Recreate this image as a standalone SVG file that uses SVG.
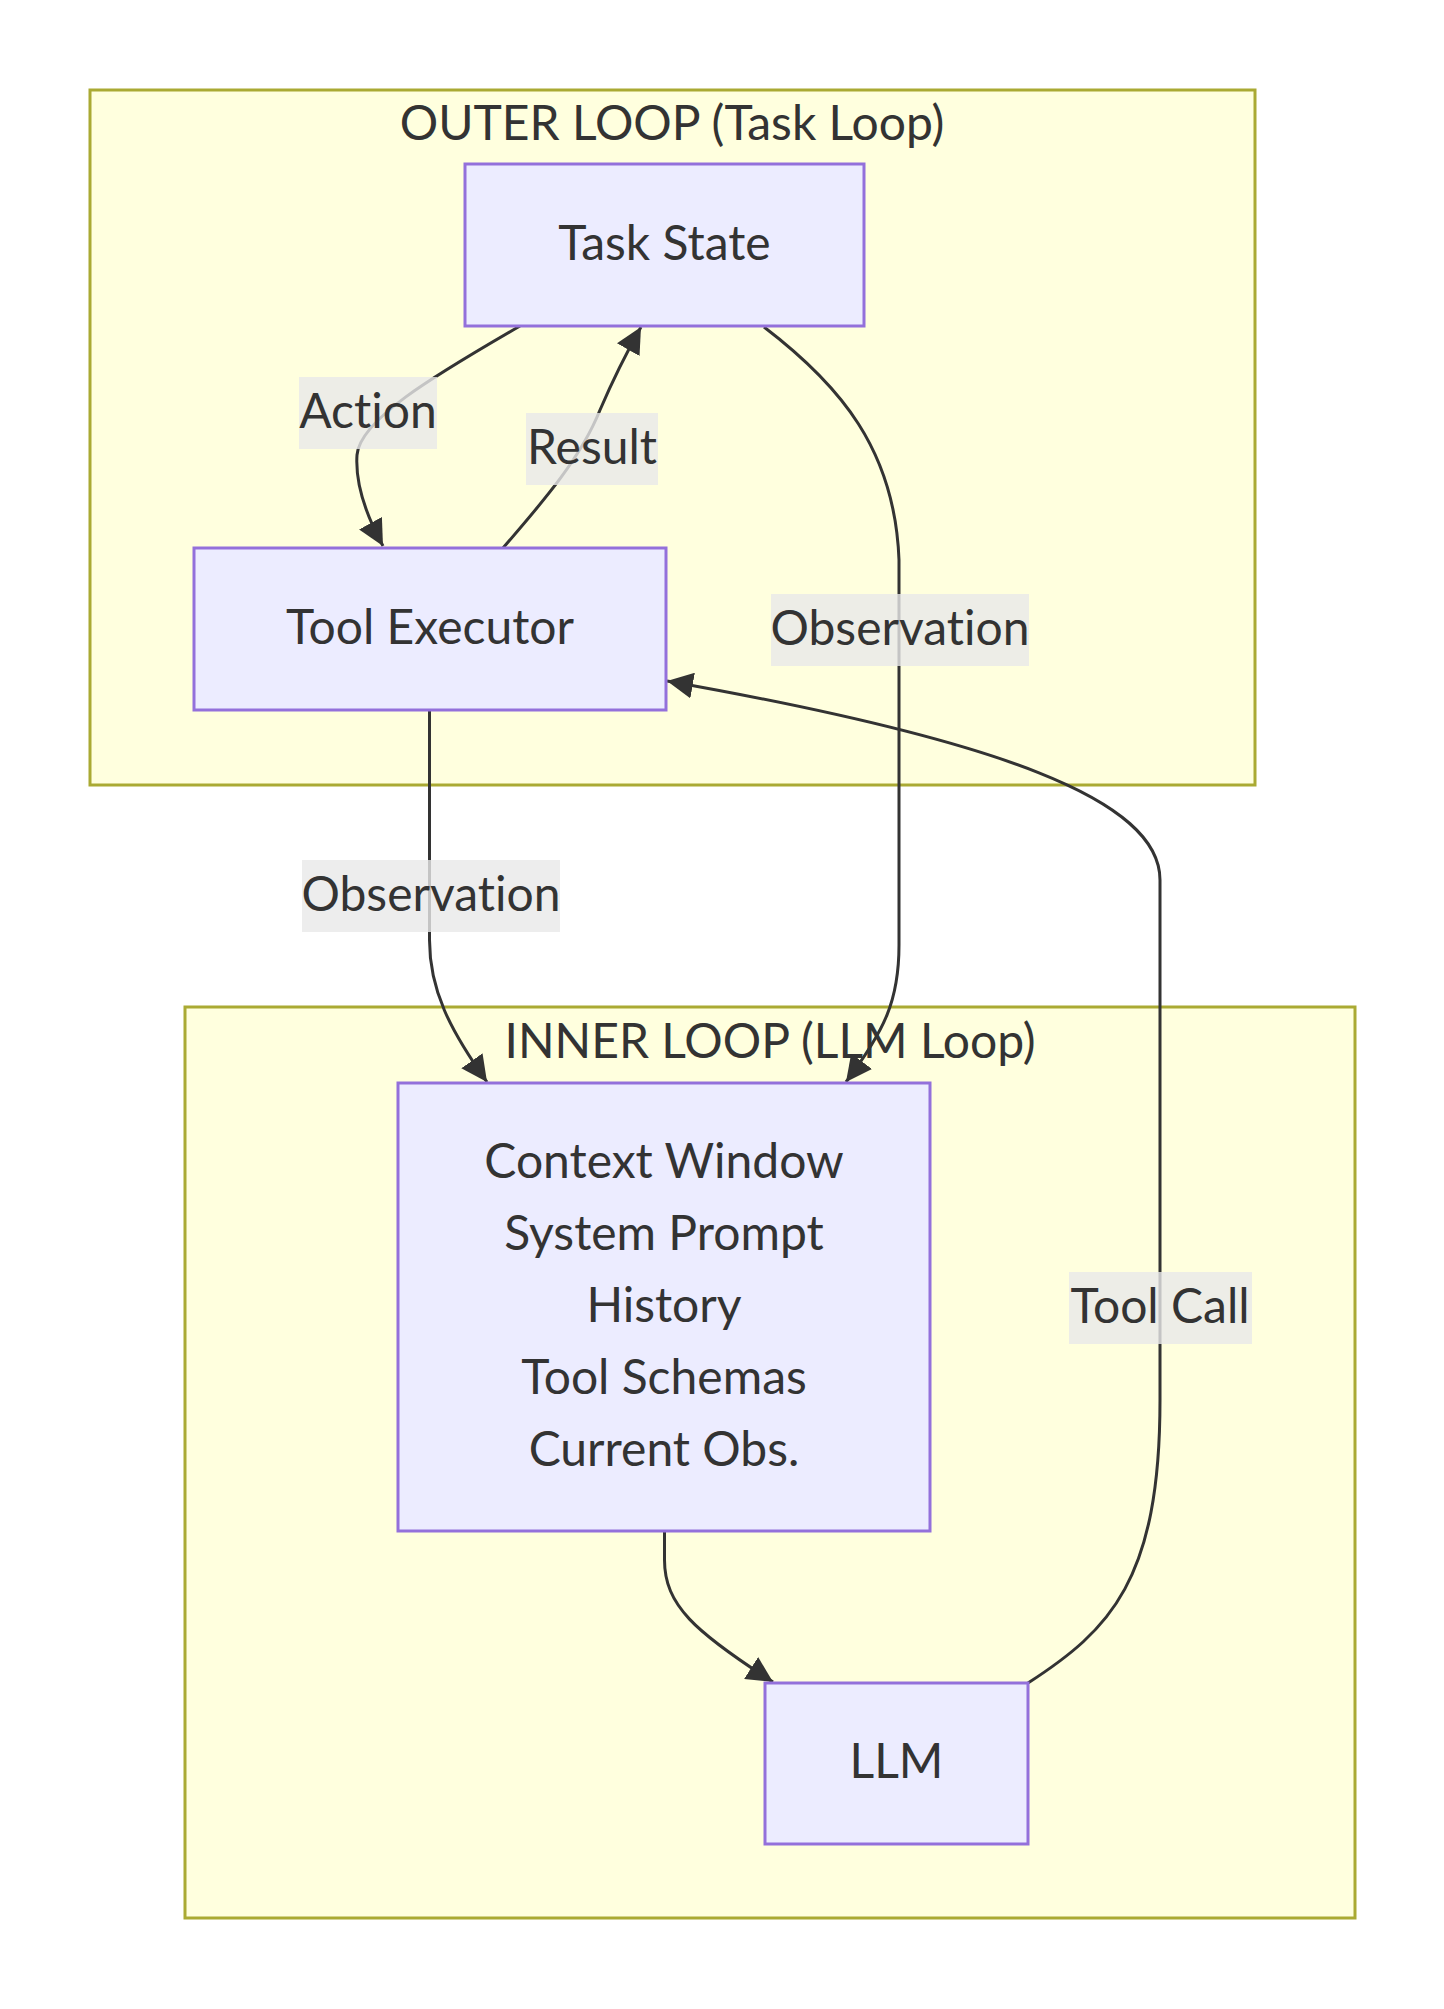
<svg xmlns="http://www.w3.org/2000/svg" width="1444" height="2009" viewBox="0 0 1444 2009">
<style>
.cluster{fill:#ffffde;stroke:#aaaa33;stroke-width:3}
.node rect{fill:#ececff;stroke:#9370db;stroke-width:3}
.txt{font-family:Lato,"Liberation Sans",sans-serif;font-size:48px;fill:#333333;text-anchor:middle;font-variant-ligatures:none;font-feature-settings:"liga" 0,"clig" 0}
.edge{fill:none;stroke:#333333;stroke-width:3}
.lbl{fill:#e8e8e8;fill-opacity:0.8}
</style>
<defs>
<marker id="arrow" viewBox="0 0 10 10" refX="10" refY="5" markerUnits="userSpaceOnUse" markerWidth="26" markerHeight="26" orient="auto">
<path d="M0,0 L10,5 L0,10 z" fill="#333333"/>
</marker>
</defs>
<rect width="1444" height="2009" fill="#ffffff"/>
<g id="cluster-outer">
<rect class="cluster" x="90" y="90" width="1165" height="695"/>
<text class="txt" x="672" y="140">OUTER LOOP (Task Loop)</text>
</g>
<g id="cluster-inner">
<rect class="cluster" x="185" y="1007" width="1170" height="911"/>
<text class="txt" x="770" y="1058">INNER LOOP (LLM Loop)</text>
</g>
<g id="connectors">
<path class="edge" d="M520,326 C430,378 360,420 357,455 C355,485 366,515 383,546" marker-end="url(#arrow)"/>
<path class="edge" d="M503,548 C540,505 580,460 600,410 C615,375 628,350 641,327" marker-end="url(#arrow)"/>
<path class="edge" d="M764,327 C840,385 895,450 899,560 L899,945 C899,1000 885,1030 846,1082" marker-end="url(#arrow)"/>
<path class="edge" d="M429.5,711 L429.5,940 C429.5,990 450,1030 487,1082" marker-end="url(#arrow)"/>
<path class="edge" d="M664.5,1532 L664.5,1560 C664.5,1605 695,1632 773,1682" marker-end="url(#arrow)"/>
<path class="edge" d="M1028,1683 C1110,1630 1160,1580 1160,1400 L1160,880 C1160,800 1000,740 667,681" marker-end="url(#arrow)"/>
</g>
<g id="edge-labels">
<rect class="lbl" x="299" y="377" width="138" height="72"/>
<text class="txt" x="368" y="428">Action</text>
<rect class="lbl" x="526" y="413" width="132" height="72"/>
<text class="txt" x="592" y="464">Result</text>
<rect class="lbl" x="771" y="594" width="258" height="72"/>
<text class="txt" x="900" y="645">Observation</text>
<rect class="lbl" x="302" y="860" width="258" height="72"/>
<text class="txt" x="431" y="911">Observation</text>
<rect class="lbl" x="1069" y="1272" width="183" height="72"/>
<text class="txt" x="1160" y="1323">Tool Call</text>
</g>
<g id="node-task-state" class="node">
<rect x="465" y="164" width="399" height="162"/>
<text class="txt" x="664.5" y="260">Task State</text>
</g>
<g id="node-tool-executor" class="node">
<rect x="194" y="548" width="472" height="162"/>
<text class="txt" x="430" y="644">Tool Executor</text>
</g>
<g id="node-context-window" class="node">
<rect x="398" y="1083" width="532" height="448"/>
<text class="txt" x="664" y="1178">Context Window</text>
<text class="txt" x="664" y="1250">System Prompt</text>
<text class="txt" x="664" y="1322">History</text>
<text class="txt" x="664" y="1394">Tool Schemas</text>
<text class="txt" x="664" y="1466">Current Obs.</text>
</g>
<g id="node-llm" class="node">
<rect x="765" y="1683" width="263" height="161"/>
<text class="txt" x="896.5" y="1778">LLM</text>
</g>
</svg>
